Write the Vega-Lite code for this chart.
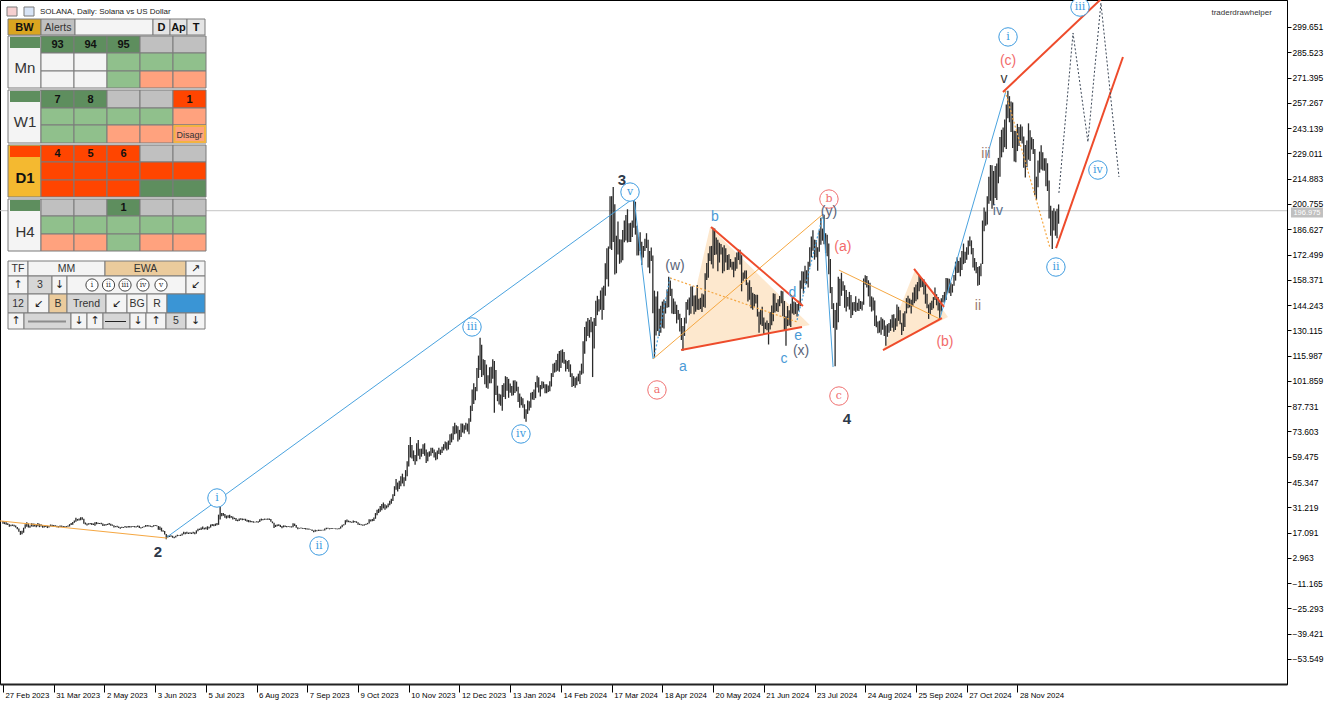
{
"$schema":"https://vega.github.io/schema/vega-lite/v6.json",
"width":1287,"height":684,"autosize":"none",
"padding":{"left":0,"top":0,"right":45,"bottom":23},
"background":"white",
"config":{"view":{"stroke":"#000","strokeWidth":1},"font":"Liberation Sans"},
"datasets":{
"bars":[
{"i":0,"l":22.0,"h":23.5},{"i":1,"l":21.8,"h":22.9},{"i":2,"l":21.5,"h":22.8},{"i":3,"l":21.3,"h":22.3},{"i":4,"l":20.4,"h":21.8},{"i":5,"l":20.6,"h":21.4},{"i":6,"l":20.8,"h":21.6},{"i":7,"l":20.5,"h":21.5},{"i":8,"l":19.9,"h":21.0},{"i":9,"l":18.9,"h":20.2},
{"i":10,"l":17.5,"h":19.3},{"i":11,"l":15.8,"h":18.0},{"i":12,"l":16.2,"h":18.1},{"i":13,"l":17.0,"h":19.8},{"i":14,"l":19.3,"h":21.7},{"i":15,"l":20.3,"h":22.9},{"i":16,"l":19.9,"h":22.2},{"i":17,"l":19.8,"h":21.0},{"i":18,"l":20.5,"h":22.3},{"i":19,"l":20.3,"h":22.1},
{"i":20,"l":20.5,"h":22.0},{"i":21,"l":20.1,"h":21.6},{"i":22,"l":20.6,"h":22.4},{"i":23,"l":20.1,"h":22.0},{"i":24,"l":20.5,"h":21.8},{"i":25,"l":19.8,"h":21.2},{"i":26,"l":19.9,"h":20.8},{"i":27,"l":20.2,"h":21.0},{"i":28,"l":19.6,"h":20.9},{"i":29,"l":19.9,"h":20.8},
{"i":30,"l":20.6,"h":21.6},{"i":31,"l":20.5,"h":21.5},{"i":32,"l":20.4,"h":21.3},{"i":33,"l":20.5,"h":21.2},{"i":34,"l":20.1,"h":20.9},{"i":35,"l":19.9,"h":20.7},{"i":36,"l":20.2,"h":21.0},{"i":37,"l":20.3,"h":21.0},{"i":38,"l":20.2,"h":20.8},{"i":39,"l":20.0,"h":20.6},
{"i":40,"l":20.1,"h":20.7},{"i":41,"l":20.3,"h":21.0},{"i":42,"l":20.5,"h":21.8},{"i":43,"l":21.3,"h":22.4},{"i":44,"l":21.4,"h":23.0},{"i":45,"l":22.6,"h":23.9},{"i":46,"l":23.2,"h":25.3},{"i":47,"l":23.7,"h":24.7},{"i":48,"l":23.9,"h":25.0},{"i":49,"l":24.0,"h":25.7},
{"i":50,"l":24.3,"h":25.6},{"i":51,"l":22.0,"h":24.8},{"i":52,"l":21.6,"h":22.7},{"i":53,"l":21.0,"h":22.2},{"i":54,"l":21.5,"h":22.3},{"i":55,"l":21.7,"h":22.4},{"i":56,"l":21.3,"h":22.4},{"i":57,"l":21.3,"h":22.2},{"i":58,"l":20.9,"h":22.8},{"i":59,"l":21.7,"h":23.0},
{"i":60,"l":21.9,"h":22.6},{"i":61,"l":21.9,"h":22.5},{"i":62,"l":21.8,"h":22.6},{"i":63,"l":20.8,"h":22.1},{"i":64,"l":20.9,"h":21.7},{"i":65,"l":21.0,"h":21.9},{"i":66,"l":21.3,"h":22.0},{"i":67,"l":21.5,"h":22.4},{"i":68,"l":20.9,"h":22.0},{"i":69,"l":20.9,"h":21.6},
{"i":70,"l":19.9,"h":21.2},{"i":71,"l":20.1,"h":20.7},{"i":72,"l":20.0,"h":20.9},{"i":73,"l":19.6,"h":20.5},{"i":74,"l":19.2,"h":20.1},{"i":75,"l":19.7,"h":20.3},{"i":76,"l":19.7,"h":20.2},{"i":77,"l":19.9,"h":20.7},{"i":78,"l":19.8,"h":20.5},{"i":79,"l":19.9,"h":20.8},
{"i":80,"l":19.9,"h":20.7},{"i":81,"l":20.0,"h":20.6},{"i":82,"l":20.2,"h":20.8},{"i":83,"l":20.0,"h":20.7},{"i":84,"l":19.9,"h":20.6},{"i":85,"l":20.2,"h":21.1},{"i":86,"l":19.6,"h":20.9},{"i":87,"l":19.4,"h":20.0},{"i":88,"l":19.7,"h":20.3},{"i":89,"l":20.1,"h":20.6},
{"i":90,"l":20.3,"h":21.3},{"i":91,"l":20.5,"h":21.3},{"i":92,"l":20.5,"h":21.2},{"i":93,"l":20.3,"h":21.0},{"i":94,"l":20.1,"h":20.8},{"i":95,"l":20.4,"h":21.2},{"i":96,"l":20.7,"h":21.3},{"i":97,"l":20.6,"h":21.2},{"i":98,"l":18.7,"h":20.8},{"i":99,"l":18.5,"h":20.5},
{"i":100,"l":17.7,"h":19.8},{"i":101,"l":17.6,"h":18.4},{"i":102,"l":16.0,"h":17.9},{"i":103,"l":13.3,"h":16.3},{"i":104,"l":14.3,"h":15.5},{"i":105,"l":14.6,"h":15.4},{"i":106,"l":14.8,"h":15.6},{"i":107,"l":14.2,"h":15.3},{"i":108,"l":13.9,"h":14.8},{"i":109,"l":14.3,"h":15.3},
{"i":110,"l":15.0,"h":15.8},{"i":111,"l":15.1,"h":15.6},{"i":112,"l":15.2,"h":15.9},{"i":113,"l":15.5,"h":16.5},{"i":114,"l":16.2,"h":17.5},{"i":115,"l":16.2,"h":17.3},{"i":116,"l":16.4,"h":17.6},{"i":117,"l":16.3,"h":17.1},{"i":118,"l":16.4,"h":17.3},{"i":119,"l":16.3,"h":17.1},
{"i":120,"l":16.6,"h":17.6},{"i":121,"l":16.2,"h":17.3},{"i":122,"l":16.5,"h":18.3},{"i":123,"l":17.8,"h":19.2},{"i":124,"l":18.5,"h":19.3},{"i":125,"l":18.5,"h":19.9},{"i":126,"l":18.9,"h":20.5},{"i":127,"l":18.8,"h":19.8},{"i":128,"l":18.9,"h":20.1},{"i":129,"l":18.6,"h":20.6},
{"i":130,"l":19.3,"h":20.4},{"i":131,"l":19.9,"h":21.6},{"i":132,"l":20.7,"h":21.9},{"i":133,"l":20.6,"h":21.8},{"i":134,"l":20.8,"h":22.1},{"i":135,"l":21.2,"h":22.4},{"i":136,"l":21.4,"h":27.1},{"i":137,"l":24.4,"h":32.1},{"i":138,"l":26.2,"h":28.0},{"i":139,"l":26.5,"h":28.0},
{"i":140,"l":25.4,"h":27.4},{"i":141,"l":24.9,"h":26.6},{"i":142,"l":25.3,"h":26.8},{"i":143,"l":25.1,"h":27.1},{"i":144,"l":25.4,"h":26.4},{"i":145,"l":24.4,"h":26.0},{"i":146,"l":24.6,"h":25.4},{"i":147,"l":23.6,"h":25.2},{"i":148,"l":23.4,"h":24.3},{"i":149,"l":23.6,"h":25.0},
{"i":150,"l":24.2,"h":25.1},{"i":151,"l":24.0,"h":25.0},{"i":152,"l":24.1,"h":24.8},{"i":153,"l":23.6,"h":24.8},{"i":154,"l":23.2,"h":24.3},{"i":155,"l":22.8,"h":24.1},{"i":156,"l":22.9,"h":23.9},{"i":157,"l":22.8,"h":23.6},{"i":158,"l":22.6,"h":23.4},{"i":159,"l":22.7,"h":23.2},
{"i":160,"l":22.8,"h":23.4},{"i":161,"l":22.6,"h":23.4},{"i":162,"l":23.0,"h":24.5},{"i":163,"l":23.8,"h":24.9},{"i":164,"l":24.0,"h":24.6},{"i":165,"l":24.2,"h":24.9},{"i":166,"l":24.3,"h":24.8},{"i":167,"l":24.3,"h":24.9},{"i":168,"l":24.1,"h":25.0},{"i":169,"l":23.1,"h":24.6},
{"i":170,"l":22.3,"h":23.3},{"i":171,"l":19.7,"h":22.6},{"i":172,"l":20.2,"h":21.4},{"i":173,"l":20.6,"h":21.6},{"i":174,"l":20.8,"h":21.7},{"i":175,"l":20.2,"h":21.4},{"i":176,"l":19.5,"h":20.7},{"i":177,"l":20.0,"h":21.1},{"i":178,"l":20.2,"h":21.0},{"i":179,"l":20.1,"h":20.7},
{"i":180,"l":20.2,"h":20.6},{"i":181,"l":20.1,"h":20.6},{"i":182,"l":19.9,"h":20.6},{"i":183,"l":20.0,"h":22.3},{"i":184,"l":20.8,"h":22.1},{"i":185,"l":19.8,"h":21.3},{"i":186,"l":19.0,"h":20.0},{"i":187,"l":19.3,"h":19.7},{"i":188,"l":19.4,"h":19.9},{"i":189,"l":19.2,"h":19.7},
{"i":190,"l":19.1,"h":19.7},{"i":191,"l":18.8,"h":19.6},{"i":192,"l":18.8,"h":19.4},{"i":193,"l":18.6,"h":19.4},{"i":194,"l":18.7,"h":19.0},{"i":195,"l":17.9,"h":18.8},{"i":196,"l":17.3,"h":18.2},{"i":197,"l":17.6,"h":18.6},{"i":198,"l":17.8,"h":18.4},{"i":199,"l":18.0,"h":18.7},
{"i":200,"l":18.0,"h":18.7},{"i":201,"l":18.2,"h":18.6},{"i":202,"l":18.2,"h":18.6},{"i":203,"l":18.3,"h":19.3},{"i":204,"l":18.9,"h":19.8},{"i":205,"l":19.2,"h":19.8},{"i":206,"l":18.9,"h":19.5},{"i":207,"l":19.1,"h":19.6},{"i":208,"l":19.2,"h":19.6},{"i":209,"l":19.1,"h":19.4},
{"i":210,"l":19.0,"h":19.5},{"i":211,"l":18.9,"h":19.3},{"i":212,"l":19.0,"h":19.6},{"i":213,"l":19.3,"h":20.5},{"i":214,"l":20.1,"h":21.5},{"i":215,"l":21.0,"h":21.7},{"i":216,"l":21.5,"h":24.0},{"i":217,"l":22.8,"h":24.4},{"i":218,"l":22.9,"h":23.8},{"i":219,"l":22.7,"h":23.5},
{"i":220,"l":22.6,"h":23.2},{"i":221,"l":22.6,"h":23.9},{"i":222,"l":22.9,"h":23.5},{"i":223,"l":22.5,"h":23.4},{"i":224,"l":21.4,"h":22.8},{"i":225,"l":21.3,"h":22.1},{"i":226,"l":21.2,"h":21.8},{"i":227,"l":20.9,"h":21.6},{"i":228,"l":21.0,"h":21.7},{"i":229,"l":21.3,"h":22.0},
{"i":230,"l":21.7,"h":22.5},{"i":231,"l":22.2,"h":24.5},{"i":232,"l":23.3,"h":24.4},{"i":233,"l":23.4,"h":24.6},{"i":234,"l":23.6,"h":25.5},{"i":235,"l":24.8,"h":28.0},{"i":236,"l":26.8,"h":29.9},{"i":237,"l":28.0,"h":30.4},{"i":238,"l":28.7,"h":31.9},{"i":239,"l":29.5,"h":33.0},
{"i":240,"l":30.6,"h":33.9},{"i":241,"l":29.8,"h":32.9},{"i":242,"l":30.6,"h":32.3},{"i":243,"l":31.2,"h":33.3},{"i":244,"l":32.4,"h":34.8},{"i":245,"l":33.2,"h":36.0},{"i":246,"l":34.7,"h":38.5},{"i":247,"l":37.5,"h":43.0},{"i":248,"l":41.0,"h":47.0},{"i":249,"l":40.0,"h":45.0},
{"i":250,"l":41.5,"h":46.0},{"i":251,"l":43.0,"h":48.5},{"i":252,"l":44.5,"h":50.0},{"i":253,"l":43.0,"h":48.0},{"i":254,"l":46.0,"h":52.0},{"i":255,"l":48.5,"h":57.0},{"i":256,"l":54.0,"h":66.0},{"i":257,"l":59.0,"h":70.5},{"i":258,"l":58.5,"h":66.0},{"i":259,"l":57.0,"h":63.0},
{"i":260,"l":55.0,"h":60.5},{"i":261,"l":57.0,"h":67.0},{"i":262,"l":60.0,"h":68.8},{"i":263,"l":58.0,"h":64.0},{"i":264,"l":59.5,"h":64.0},{"i":265,"l":61.0,"h":66.5},{"i":266,"l":60.0,"h":67.0},{"i":267,"l":56.0,"h":63.5},{"i":268,"l":57.0,"h":62.0},{"i":269,"l":59.5,"h":62.5},
{"i":270,"l":60.0,"h":64.5},{"i":271,"l":61.5,"h":64.5},{"i":272,"l":59.0,"h":63.5},{"i":273,"l":57.5,"h":62.0},{"i":274,"l":58.0,"h":63.0},{"i":275,"l":61.0,"h":64.5},{"i":276,"l":60.5,"h":63.5},{"i":277,"l":61.5,"h":65.0},{"i":278,"l":63.0,"h":66.5},{"i":279,"l":64.0,"h":68.0},
{"i":280,"l":63.0,"h":67.5},{"i":281,"l":63.5,"h":68.5},{"i":282,"l":66.0,"h":72.0},{"i":283,"l":67.5,"h":72.5},{"i":284,"l":69.0,"h":76.5},{"i":285,"l":72.0,"h":78.5},{"i":286,"l":72.5,"h":77.0},{"i":287,"l":68.0,"h":76.5},{"i":288,"l":69.0,"h":74.5},{"i":289,"l":70.5,"h":78.0},
{"i":290,"l":73.0,"h":78.0},{"i":291,"l":72.5,"h":77.0},{"i":292,"l":74.5,"h":78.5},{"i":293,"l":73.5,"h":78.0},{"i":294,"l":72.0,"h":81.0},{"i":295,"l":79.0,"h":88.0},{"i":296,"l":85.0,"h":97.0},{"i":297,"l":89.0,"h":100.5},{"i":298,"l":91.0,"h":98.5},{"i":299,"l":96.0,"h":109.0},
{"i":300,"l":103.5,"h":116.0},{"i":301,"l":108.0,"h":126.0},{"i":302,"l":104.0,"h":122.0},{"i":303,"l":105.0,"h":114.0},{"i":304,"l":100.0,"h":113.5},{"i":305,"l":98.0,"h":111.0},{"i":306,"l":97.5,"h":105.0},{"i":307,"l":100.5,"h":109.5},{"i":308,"l":100.5,"h":109.8},{"i":309,"l":103.0,"h":114.0},
{"i":310,"l":84.0,"h":113.0},{"i":311,"l":94.0,"h":108.0},{"i":312,"l":90.5,"h":99.2},{"i":313,"l":88.7,"h":94.7},{"i":314,"l":88.0,"h":94.3},{"i":315,"l":85.2,"h":99.5},{"i":316,"l":92.8,"h":100.5},{"i":317,"l":91.7,"h":104.5},{"i":318,"l":96.3,"h":104.0},{"i":319,"l":92.4,"h":103.0},
{"i":320,"l":95.2,"h":100.4},{"i":321,"l":93.6,"h":99.0},{"i":322,"l":93.8,"h":102.1},{"i":323,"l":95.1,"h":102.2},{"i":324,"l":96.0,"h":101.5},{"i":325,"l":90.1,"h":98.6},{"i":326,"l":86.8,"h":94.8},{"i":327,"l":88.2,"h":93.0},{"i":328,"l":86.9,"h":92.2},{"i":329,"l":80.7,"h":88.8},
{"i":330,"l":79.0,"h":86.0},{"i":331,"l":83.4,"h":90.9},{"i":332,"l":85.3,"h":90.5},{"i":333,"l":86.8,"h":95.3},{"i":334,"l":91.4,"h":95.7},{"i":335,"l":91.2,"h":97.1},{"i":336,"l":92.2,"h":101.2},{"i":337,"l":98.2,"h":104.7},{"i":338,"l":95.4,"h":103.9},{"i":339,"l":93.1,"h":99.5},
{"i":340,"l":97.2,"h":101.6},{"i":341,"l":97.8,"h":101.4},{"i":342,"l":95.0,"h":100.0},{"i":343,"l":95.0,"h":100.0},{"i":344,"l":95.6,"h":99.3},{"i":345,"l":96.0,"h":101.7},{"i":346,"l":98.7,"h":106.2},{"i":347,"l":104.1,"h":111.5},{"i":348,"l":106.5,"h":112.0},{"i":349,"l":107.0,"h":113.5},
{"i":350,"l":107.5,"h":117.0},{"i":351,"l":107.0,"h":118.5},{"i":352,"l":109.0,"h":119.0},{"i":353,"l":112.0,"h":119.5},{"i":354,"l":111.5,"h":118.0},{"i":355,"l":107.1,"h":113.7},{"i":356,"l":108.5,"h":113.0},{"i":357,"l":107.0,"h":113.5},{"i":358,"l":104.0,"h":111.1},{"i":359,"l":98.5,"h":106.1},
{"i":360,"l":99.0,"h":104.5},{"i":361,"l":98.0,"h":103.6},{"i":362,"l":99.4,"h":104.3},{"i":363,"l":101.6,"h":105.9},{"i":364,"l":100.1,"h":107.5},{"i":365,"l":105.3,"h":111.5},{"i":366,"l":106.0,"h":124.0},{"i":367,"l":117.0,"h":132.0},{"i":368,"l":124.0,"h":135.0},{"i":369,"l":127.0,"h":137.0},
{"i":370,"l":126.0,"h":136.0},{"i":371,"l":129.0,"h":137.5},{"i":372,"l":104.0,"h":135.0},{"i":373,"l":120.0,"h":137.0},{"i":374,"l":132.5,"h":146.6},{"i":375,"l":138.6,"h":149.4},{"i":376,"l":140.6,"h":147.5},{"i":377,"l":141.6,"h":152.4},{"i":378,"l":136.1,"h":154.0},{"i":379,"l":141.5,"h":155.0},
{"i":380,"l":149.4,"h":167.6},{"i":381,"l":158.6,"h":176.0},{"i":382,"l":154.6,"h":177.0},{"i":383,"l":175.7,"h":205.0},{"i":384,"l":175.0,"h":205.1},{"i":385,"l":179.5,"h":210.2},{"i":386,"l":161.3,"h":200.6},{"i":387,"l":162.0,"h":183.0},{"i":388,"l":172.5,"h":190.9},{"i":389,"l":167.3,"h":181.0},
{"i":390,"l":168.0,"h":180.9},{"i":391,"l":169.3,"h":186.2},{"i":392,"l":179.4,"h":191.5},{"i":393,"l":180.3,"h":194.6},{"i":394,"l":179.2,"h":197.8},{"i":395,"l":179.5,"h":189.9},{"i":396,"l":179.5,"h":190.2},{"i":397,"l":182.3,"h":191.5},{"i":398,"l":187.5,"h":204.0},{"i":399,"l":183.6,"h":202.0},
{"i":400,"l":172.0,"h":188.5},{"i":401,"l":172.0,"h":182.5},{"i":402,"l":174.5,"h":185.0},{"i":403,"l":166.6,"h":179.6},{"i":404,"l":170.8,"h":177.3},{"i":405,"l":174.4,"h":181.3},{"i":406,"l":176.1,"h":184.4},{"i":407,"l":165.2,"h":180.8},{"i":408,"l":162.0,"h":174.5},{"i":409,"l":168.8,"h":176.4},
{"i":410,"l":139.7,"h":172.0},{"i":411,"l":115.0,"h":152.3},{"i":412,"l":127.2,"h":149.0},{"i":413,"l":129.7,"h":151.9},{"i":414,"l":127.0,"h":142.2},{"i":415,"l":128.7,"h":143.9},{"i":416,"l":131.6,"h":146.2},{"i":417,"l":131.2,"h":147.3},{"i":418,"l":139.5,"h":146.5},{"i":419,"l":142.8,"h":153.0},
{"i":420,"l":143.0,"h":160.0},{"i":421,"l":149.3,"h":158.0},{"i":422,"l":139.5,"h":153.4},{"i":423,"l":139.2,"h":147.9},{"i":424,"l":139.2,"h":146.3},{"i":425,"l":134.0,"h":144.4},{"i":426,"l":136.0,"h":141.5},{"i":427,"l":129.4,"h":139.4},{"i":428,"l":124.7,"h":137.0},{"i":429,"l":118.7,"h":132.5},
{"i":430,"l":127.0,"h":137.2},{"i":431,"l":133.9,"h":146.0},{"i":432,"l":141.6,"h":147.4},{"i":433,"l":138.6,"h":148.4},{"i":434,"l":139.4,"h":154.6},{"i":435,"l":143.6,"h":154.7},{"i":436,"l":139.1,"h":149.6},{"i":437,"l":140.5,"h":149.7},{"i":438,"l":141.6,"h":155.4},{"i":439,"l":141.5,"h":147.7},
{"i":440,"l":142.0,"h":148.3},{"i":441,"l":140.3,"h":150.7},{"i":442,"l":143.2,"h":150.2},{"i":443,"l":142.8,"h":162.0},{"i":444,"l":158.2,"h":167.8},{"i":445,"l":159.5,"h":173.2},{"i":446,"l":168.9,"h":177.1},{"i":447,"l":167.0,"h":177.3},{"i":448,"l":164.7,"h":187.5},{"i":449,"l":172.2,"h":187.0},
{"i":450,"l":172.5,"h":182.0},{"i":451,"l":163.2,"h":180.8},{"i":452,"l":168.0,"h":179.1},{"i":453,"l":172.5,"h":178.4},{"i":454,"l":162.0,"h":176.5},{"i":455,"l":163.2,"h":177.6},{"i":456,"l":168.0,"h":176.0},{"i":457,"l":163.8,"h":172.2},{"i":458,"l":164.0,"h":172.6},{"i":459,"l":165.3,"h":170.0},
{"i":460,"l":164.0,"h":168.5},{"i":461,"l":159.8,"h":168.5},{"i":462,"l":163.4,"h":171.0},{"i":463,"l":164.5,"h":173.6},{"i":464,"l":169.4,"h":175.3},{"i":465,"l":166.9,"h":175.1},{"i":466,"l":151.9,"h":172.1},{"i":467,"l":157.8,"h":162.4},{"i":468,"l":158.9,"h":163.5},{"i":469,"l":155.4,"h":163.6},
{"i":470,"l":146.2,"h":156.8},{"i":471,"l":147.2,"h":158.1},{"i":472,"l":142.5,"h":154.4},{"i":473,"l":141.6,"h":151.1},{"i":474,"l":143.3,"h":150.4},{"i":475,"l":145.1,"h":150.0},{"i":476,"l":137.8,"h":150.0},{"i":477,"l":128.7,"h":140.5},{"i":478,"l":133.3,"h":141.6},{"i":479,"l":132.5,"h":143.3},
{"i":480,"l":127.7,"h":137.3},{"i":481,"l":130.8,"h":134.5},{"i":482,"l":130.2,"h":135.6},{"i":483,"l":122.2,"h":134.2},{"i":484,"l":130.6,"h":140.3},{"i":485,"l":133.0,"h":144.0},{"i":486,"l":135.2,"h":150.8},{"i":487,"l":140.1,"h":150.5},{"i":488,"l":140.8,"h":145.5},{"i":489,"l":140.3,"h":147.5},
{"i":490,"l":143.6,"h":149.3},{"i":491,"l":145.3,"h":152.3},{"i":492,"l":138.0,"h":152.0},{"i":493,"l":130.0,"h":146.5},{"i":494,"l":121.5,"h":138.0},{"i":495,"l":132.5,"h":143.7},{"i":496,"l":132.8,"h":141.4},{"i":497,"l":132.0,"h":145.0},{"i":498,"l":139.5,"h":148.6},{"i":499,"l":138.8,"h":146.3},
{"i":500,"l":139.3,"h":145.8},{"i":501,"l":137.8,"h":144.8},{"i":502,"l":141.0,"h":146.6},{"i":503,"l":143.7,"h":158.0},{"i":504,"l":153.4,"h":163.2},{"i":505,"l":150.7,"h":163.0},{"i":506,"l":156.4,"h":166.2},{"i":507,"l":156.0,"h":163.7},{"i":508,"l":154.0,"h":168.5},{"i":509,"l":165.7,"h":176.6},
{"i":510,"l":171.0,"h":182.5},{"i":511,"l":174.6,"h":186.0},{"i":512,"l":169.6,"h":180.8},{"i":513,"l":171.0,"h":180.6},{"i":514,"l":163.4,"h":176.6},{"i":515,"l":174.0,"h":186.0},{"i":516,"l":178.0,"h":193.0},{"i":517,"l":180.2,"h":187.0},{"i":518,"l":178.2,"h":194.7},{"i":519,"l":173.4,"h":184.4},
{"i":520,"l":171.5,"h":183.5},{"i":521,"l":161.5,"h":178.6},{"i":522,"l":150.9,"h":170.0},{"i":523,"l":142.0,"h":154.3},{"i":524,"l":131.5,"h":145.3},{"i":525,"l":110.0,"h":141.5},{"i":526,"l":130.4,"h":145.5},{"i":527,"l":134.7,"h":160.0},{"i":528,"l":143.7,"h":158.9},{"i":529,"l":149.4,"h":162.3},
{"i":530,"l":152.3,"h":157.6},{"i":531,"l":142.7,"h":155.3},{"i":532,"l":140.7,"h":152.6},{"i":533,"l":143.5,"h":148.8},{"i":534,"l":141.7,"h":151.6},{"i":535,"l":137.0,"h":149.9},{"i":536,"l":138.6,"h":145.8},{"i":537,"l":141.0,"h":146.0},{"i":538,"l":140.4,"h":149.2},{"i":539,"l":141.1,"h":145.6},
{"i":540,"l":140.9,"h":147.7},{"i":541,"l":142.0,"h":146.5},{"i":542,"l":141.2,"h":146.3},{"i":543,"l":144.4,"h":159.1},{"i":544,"l":155.6,"h":160.9},{"i":545,"l":154.0,"h":160.5},{"i":546,"l":149.1,"h":158.1},{"i":547,"l":143.3,"h":156.7},{"i":548,"l":140.6,"h":149.1},{"i":549,"l":141.2,"h":148.4},
{"i":550,"l":132.6,"h":146.8},{"i":551,"l":131.8,"h":138.4},{"i":552,"l":128.5,"h":135.0},{"i":553,"l":128.8,"h":135.5},{"i":554,"l":127.6,"h":137.4},{"i":555,"l":130.5,"h":136.6},{"i":556,"l":127.0,"h":135.7},{"i":557,"l":121.5,"h":132.8},{"i":558,"l":126.5,"h":133.6},{"i":559,"l":128.8,"h":134.2},
{"i":560,"l":129.8,"h":136.3},{"i":561,"l":131.6,"h":138.8},{"i":562,"l":129.3,"h":139.1},{"i":563,"l":130.3,"h":136.8},{"i":564,"l":132.2,"h":144.5},{"i":565,"l":135.4,"h":143.3},{"i":566,"l":133.5,"h":141.3},{"i":567,"l":127.5,"h":134.3},{"i":568,"l":129.8,"h":139.6},{"i":569,"l":132.0,"h":140.8},
{"i":570,"l":139.6,"h":148.1},{"i":571,"l":142.5,"h":149.5},{"i":572,"l":142.9,"h":147.9},{"i":573,"l":139.5,"h":147.2},{"i":574,"l":143.6,"h":151.2},{"i":575,"l":145.3,"h":154.2},{"i":576,"l":146.4,"h":155.8},{"i":577,"l":147.4,"h":157.1},{"i":578,"l":152.0,"h":160.7},{"i":579,"l":154.0,"h":159.6},
{"i":580,"l":154.3,"h":159.2},{"i":581,"l":150.1,"h":158.6},{"i":582,"l":145.0,"h":157.0},{"i":583,"l":142.4,"h":150.6},{"i":584,"l":136.5,"h":144.6},{"i":585,"l":139.3,"h":145.6},{"i":586,"l":141.5,"h":146.7},{"i":587,"l":142.4,"h":148.7},{"i":588,"l":147.0,"h":154.0},{"i":589,"l":144.1,"h":150.3},
{"i":590,"l":141.2,"h":148.8},{"i":591,"l":136.4,"h":145.7},{"i":592,"l":140.6,"h":148.1},{"i":593,"l":145.7,"h":149.8},{"i":594,"l":145.6,"h":151.6},{"i":595,"l":147.0,"h":159.3},{"i":596,"l":151.2,"h":159.2},{"i":597,"l":150.8,"h":158.9},{"i":598,"l":149.3,"h":156.9},{"i":599,"l":151.2,"h":155.9},
{"i":600,"l":155.0,"h":161.0},{"i":601,"l":157.9,"h":168.5},{"i":602,"l":162.2,"h":170.9},{"i":603,"l":162.3,"h":168.8},{"i":604,"l":160.4,"h":170.8},{"i":605,"l":163.9,"h":174.4},{"i":606,"l":167.1,"h":178.6},{"i":607,"l":167.8,"h":174.0},{"i":608,"l":169.5,"h":176.5},{"i":609,"l":172.3,"h":180.3},
{"i":610,"l":177.1,"h":182.6},{"i":611,"l":172.6,"h":180.4},{"i":612,"l":165.2,"h":176.1},{"i":613,"l":163.5,"h":170.5},{"i":614,"l":162.0,"h":168.3},{"i":615,"l":155.0,"h":165.5},{"i":616,"l":155.5,"h":166.0},{"i":617,"l":160.3,"h":167.5},{"i":618,"l":167.2,"h":191.5},{"i":619,"l":185.5,"h":198.7},
{"i":620,"l":188.6,"h":196.6},{"i":621,"l":189.2,"h":205.0},{"i":622,"l":200.9,"h":216.0},{"i":623,"l":202.5,"h":222.5},{"i":624,"l":198.1,"h":222.4},{"i":625,"l":200.0,"h":219.2},{"i":626,"l":204.1,"h":222.0},{"i":627,"l":203.0,"h":223.4},{"i":628,"l":212.3,"h":226.5},{"i":629,"l":216.0,"h":238.2},
{"i":630,"l":226.8,"h":242.2},{"i":631,"l":229.6,"h":243.5},{"i":632,"l":232.5,"h":248.0},{"i":633,"l":231.4,"h":256.4},{"i":634,"l":248.6,"h":264.0},{"i":635,"l":246.4,"h":261.0},{"i":636,"l":241.0,"h":258.0},{"i":637,"l":232.0,"h":257.5},{"i":638,"l":224.5,"h":241.7},{"i":639,"l":224.0,"h":241.5},
{"i":640,"l":230.3,"h":245.5},{"i":641,"l":233.2,"h":243.7},{"i":642,"l":236.0,"h":245.2},{"i":643,"l":234.5,"h":244.0},{"i":644,"l":221.0,"h":238.5},{"i":645,"l":215.5,"h":233.7},{"i":646,"l":221.2,"h":236.2},{"i":647,"l":225.5,"h":245.8},{"i":648,"l":224.7,"h":242.0},{"i":649,"l":231.2,"h":238.0},
{"i":650,"l":228.6,"h":237.0},{"i":651,"l":205.8,"h":231.4},{"i":652,"l":203.0,"h":216.0},{"i":653,"l":210.1,"h":225.0},{"i":654,"l":218.2,"h":230.0},{"i":655,"l":220.0,"h":233.6},{"i":656,"l":219.5,"h":229.6},{"i":657,"l":219.3,"h":226.3},{"i":658,"l":210.6,"h":226.3},{"i":659,"l":208.0,"h":223.5},
{"i":660,"l":192.6,"h":213.8},{"i":661,"l":183.0,"h":199.8},{"i":662,"l":175.6,"h":197.0},{"i":663,"l":185.9,"h":198.3},{"i":664,"l":183.0,"h":196.7},{"i":665,"l":181.6,"h":198.0},{"i":666,"l":189.7,"h":200.5}
],
"thin":[
{"g":"o1","i":-1.9,"p":23.6},{"g":"o1","i":103.5,"p":14.0},
{"g":"b1","i":103.5,"p":14.6},{"g":"b1","i":398.1,"p":204.1},
{"g":"b2","i":398.1,"p":204.1},{"g":"b2","i":410.1,"p":114.1},
{"g":"o2","i":410.1,"p":114.1},{"g":"o2","i":517.4,"p":195.1},
{"g":"b3","i":517.4,"p":195.1},{"g":"b3","i":523.7,"p":109.6},
{"g":"o3","i":527.4,"p":163.8},{"g":"o3","i":591.2,"p":136.4},
{"g":"b4","i":591.2,"p":137.0},{"g":"b4","i":632.8,"p":263.9}
],
"thick":[
{"g":"t1","i":446.7,"p":187.9},{"g":"t1","i":504.7,"p":143.7},
{"g":"t2","i":427.8,"p":119.1},{"g":"t2","i":504.1,"p":132.0},
{"g":"t3","i":574.8,"p":164.4},{"g":"t3","i":593.7,"p":143.2},
{"g":"t4","i":555.2,"p":119.1},{"g":"t4","i":592.4,"p":137.0},
{"g":"t5","i":630.9,"p":263.3},{"g":"t5","i":694.0,"p":316.3},
{"g":"t6","i":664.4,"p":176.1},{"g":"t6","i":706.6,"p":282.9}
],
"dots":[
{"g":"d1","i":420.8,"p":159.4},{"g":"d1","i":501.0,"p":134.8},
{"g":"d2","i":632.2,"p":263.9},{"g":"d2","i":660.6,"p":176.1},
{"g":"d3","i":410.7,"p":114.6},{"g":"d3","i":420.8,"p":159.4},
{"g":"d4","i":501.0,"p":135.9},{"g":"d4","i":517.4,"p":195.1}
],
"proj":[
{"i":666.2,"p":206.9},{"i":675.1,"p":296.3},{"i":684.5,"p":235.4},{"i":692.7,"p":313.1},{"i":704.1,"p":215.8}
],
"tri":[
{"g":"A","i":428.4,"p":119.1,"q":119.1},{"g":"A","i":446.1,"p":187.9,"q":122.2},{"g":"A","i":509.1,"p":133.1,"q":133.1},
{"g":"B","i":555.2,"p":119.1,"q":119.1},{"g":"B","i":575.4,"p":163.8,"q":128.2},{"g":"B","i":596.2,"p":137.6,"q":137.6}
],
"circ":[
{"i":135.0,"p":36.4,"t":"i","k":"b"},{"i":199.4,"p":9.6,"t":"ii","k":"b"},{"i":295.9,"p":132.0,"t":"iii","k":"b"},{"i":326.8,"p":72.2,"t":"iv","k":"b"},{"i":395.6,"p":207.4,"t":"v","k":"b"},
{"i":634.1,"p":294.1,"t":"i","k":"b"},{"i":664.3,"p":165.5,"t":"ii","k":"b"},{"i":690.8,"p":219.7,"t":"iv","k":"b"},{"i":679.5,"p":310.8,"t":"iii","k":"b"},
{"i":412.6,"p":96.8,"t":"a","k":"r"},{"i":521.1,"p":203.5,"t":"b","k":"r"},{"i":527.4,"p":93.4,"t":"c","k":"r"}
],
"labs":[
{"i":424.0,"p":165.8,"t":"(w)","k":"g"},{"i":429.0,"p":109.6,"t":"a","k":"b"},{"i":449.2,"p":193.5,"t":"b","k":"b"},{"i":492.7,"p":114.1,"t":"c","k":"b"},{"i":498.0,"p":150.9,"t":"d","k":"b"},{"i":501.6,"p":126.8,"t":"e","k":"b"},
{"i":503.5,"p":118.5,"t":"(x)","k":"g"},{"i":521.1,"p":196.0,"t":"(y)","k":"g"},{"i":529.9,"p":176.7,"t":"(a)","k":"r"},{"i":594.3,"p":123.6,"t":"(b)","k":"r"},
{"i":615.1,"p":143.7,"t":"ii","k":"br"},{"i":620.2,"p":228.7,"t":"iii","k":"br"},{"i":627.7,"p":196.8,"t":"iv","k":"s"},{"i":631.6,"p":270.6,"t":"v","k":"d"},{"i":634.1,"p":280.6,"t":"(c)","k":"r"}
],
"bold":[
{"i":97.8,"p":6.2,"t":"2"},{"i":390.5,"p":214.1,"t":"3"},{"i":532.5,"p":80.5,"t":"4"}
],
"tcells":[
{"c0":8,"c1":41,"r0":19,"r1":35,"k":"bw"},{"c0":41,"c1":75,"r0":19,"r1":35,"k":"gr"},{"c0":75,"c1":153,"r0":19,"r1":35,"k":"wh"},{"c0":153,"c1":170,"r0":19,"r1":35,"k":"hd"},{"c0":170,"c1":187,"r0":19,"r1":35,"k":"hd"},{"c0":187,"c1":205,"r0":19,"r1":35,"k":"hd"},
{"c0":8,"c1":41,"r0":36,"r1":88,"k":"wh"},{"c0":8,"c1":41,"r0":90,"r1":143,"k":"wh"},{"c0":8,"c1":41,"r0":145,"r1":197,"k":"d1"},{"c0":8,"c1":41,"r0":199,"r1":251,"k":"wh"},
{"c0":41,"c1":74,"r0":36,"r1":53,"k":"dg"},{"c0":74,"c1":107,"r0":36,"r1":53,"k":"dg"},{"c0":107,"c1":140,"r0":36,"r1":53,"k":"dg"},{"c0":140,"c1":173,"r0":36,"r1":53,"k":"gr"},{"c0":173,"c1":206,"r0":36,"r1":53,"k":"gr"},
{"c0":41,"c1":74,"r0":53,"r1":71,"k":"wh"},{"c0":74,"c1":107,"r0":53,"r1":71,"k":"wh"},{"c0":107,"c1":140,"r0":53,"r1":71,"k":"lg"},{"c0":140,"c1":173,"r0":53,"r1":71,"k":"lg"},{"c0":173,"c1":206,"r0":53,"r1":71,"k":"lg"},
{"c0":41,"c1":74,"r0":71,"r1":88,"k":"wh"},{"c0":74,"c1":107,"r0":71,"r1":88,"k":"wh"},{"c0":107,"c1":140,"r0":71,"r1":88,"k":"lg"},{"c0":140,"c1":173,"r0":71,"r1":88,"k":"sa"},{"c0":173,"c1":206,"r0":71,"r1":88,"k":"sa"},
{"c0":41,"c1":74,"r0":90,"r1":108,"k":"dg"},{"c0":74,"c1":107,"r0":90,"r1":108,"k":"dg"},{"c0":107,"c1":140,"r0":90,"r1":108,"k":"gr"},{"c0":140,"c1":173,"r0":90,"r1":108,"k":"gr"},{"c0":173,"c1":206,"r0":90,"r1":108,"k":"rd"},
{"c0":41,"c1":74,"r0":108,"r1":125,"k":"lg"},{"c0":74,"c1":107,"r0":108,"r1":125,"k":"lg"},{"c0":107,"c1":140,"r0":108,"r1":125,"k":"lg"},{"c0":140,"c1":173,"r0":108,"r1":125,"k":"lg"},{"c0":173,"c1":206,"r0":108,"r1":125,"k":"sa"},
{"c0":41,"c1":74,"r0":125,"r1":143,"k":"lg"},{"c0":74,"c1":107,"r0":125,"r1":143,"k":"lg"},{"c0":107,"c1":140,"r0":125,"r1":143,"k":"sa"},{"c0":140,"c1":173,"r0":125,"r1":143,"k":"sa"},{"c0":173,"c1":206,"r0":125,"r1":143,"k":"sa"},
{"c0":41,"c1":74,"r0":145,"r1":162,"k":"rd"},{"c0":74,"c1":107,"r0":145,"r1":162,"k":"rd"},{"c0":107,"c1":140,"r0":145,"r1":162,"k":"rd"},{"c0":140,"c1":173,"r0":145,"r1":162,"k":"gr"},{"c0":173,"c1":206,"r0":145,"r1":162,"k":"gr"},
{"c0":41,"c1":74,"r0":162,"r1":180,"k":"rd"},{"c0":74,"c1":107,"r0":162,"r1":180,"k":"rd"},{"c0":107,"c1":140,"r0":162,"r1":180,"k":"rd"},{"c0":140,"c1":173,"r0":162,"r1":180,"k":"rd"},{"c0":173,"c1":206,"r0":162,"r1":180,"k":"rd"},
{"c0":41,"c1":74,"r0":180,"r1":197,"k":"rd"},{"c0":74,"c1":107,"r0":180,"r1":197,"k":"rd"},{"c0":107,"c1":140,"r0":180,"r1":197,"k":"rd"},{"c0":140,"c1":173,"r0":180,"r1":197,"k":"dg"},{"c0":173,"c1":206,"r0":180,"r1":197,"k":"dg"},
{"c0":41,"c1":74,"r0":199,"r1":216,"k":"gr"},{"c0":74,"c1":107,"r0":199,"r1":216,"k":"gr"},{"c0":107,"c1":140,"r0":199,"r1":216,"k":"dg"},{"c0":140,"c1":173,"r0":199,"r1":216,"k":"gr"},{"c0":173,"c1":206,"r0":199,"r1":216,"k":"gr"},
{"c0":41,"c1":74,"r0":216,"r1":234,"k":"lg"},{"c0":74,"c1":107,"r0":216,"r1":234,"k":"lg"},{"c0":107,"c1":140,"r0":216,"r1":234,"k":"lg"},{"c0":140,"c1":173,"r0":216,"r1":234,"k":"lg"},{"c0":173,"c1":206,"r0":216,"r1":234,"k":"lg"},
{"c0":41,"c1":74,"r0":234,"r1":251,"k":"sa"},{"c0":74,"c1":107,"r0":234,"r1":251,"k":"sa"},{"c0":107,"c1":140,"r0":234,"r1":251,"k":"lg"},{"c0":140,"c1":173,"r0":234,"r1":251,"k":"sa"},{"c0":173,"c1":206,"r0":234,"r1":251,"k":"sa"},
{"c0":8,"c1":28,"r0":261,"r1":276,"k":"wh"},{"c0":28,"c1":105,"r0":261,"r1":276,"k":"wh"},{"c0":105,"c1":186,"r0":261,"r1":276,"k":"tan"},{"c0":186,"c1":205,"r0":261,"r1":276,"k":"wh"},
{"c0":8,"c1":28,"r0":276,"r1":294,"k":"wh"},{"c0":28,"c1":52,"r0":276,"r1":294,"k":"mg"},{"c0":52,"c1":67,"r0":276,"r1":294,"k":"wh"},{"c0":67,"c1":186,"r0":276,"r1":294,"k":"wh"},{"c0":186,"c1":205,"r0":276,"r1":294,"k":"wh"},
{"c0":8,"c1":28,"r0":294,"r1":313,"k":"mg"},{"c0":28,"c1":49,"r0":294,"r1":313,"k":"wh"},{"c0":49,"c1":67,"r0":294,"r1":313,"k":"tan"},{"c0":67,"c1":106,"r0":294,"r1":313,"k":"mg"},{"c0":106,"c1":127,"r0":294,"r1":313,"k":"wh"},{"c0":127,"c1":147,"r0":294,"r1":313,"k":"wh"},{"c0":147,"c1":167,"r0":294,"r1":313,"k":"wh"},{"c0":167,"c1":205,"r0":294,"r1":313,"k":"blu"},
{"c0":8,"c1":24,"r0":313,"r1":329,"k":"wh"},{"c0":24,"c1":71,"r0":313,"r1":329,"k":"mg"},{"c0":71,"c1":87,"r0":313,"r1":329,"k":"wh"},{"c0":87,"c1":103,"r0":313,"r1":329,"k":"wh"},{"c0":103,"c1":130,"r0":313,"r1":329,"k":"mg"},{"c0":130,"c1":146,"r0":313,"r1":329,"k":"wh"},{"c0":146,"c1":166,"r0":313,"r1":329,"k":"wh"},{"c0":166,"c1":186,"r0":313,"r1":329,"k":"mg"},{"c0":186,"c1":205,"r0":313,"r1":329,"k":"wh"},
{"c0":7,"c1":17,"r0":7,"r1":16,"k":"ic1"},{"c0":24,"c1":34,"r0":7,"r1":16,"k":"ic2"}
],
"tbars":[
{"c0":10,"c1":40,"r0":37,"r1":48,"k":"dg"},{"c0":10,"c1":40,"r0":91,"r1":102,"k":"dg"},{"c0":10,"c1":40,"r0":146,"r1":157,"k":"rd"},{"c0":10,"c1":40,"r0":200,"r1":211,"k":"dg"},
{"c0":28,"c1":66,"r0":320.5,"r1":322.5,"k":"ln1"},{"c0":105,"c1":126,"r0":321,"r1":322,"k":"ln2"}
],
"tnorm":[
{"tx":58,"ty":27.5,"t":"Alerts"},{"tx":18,"ty":268.5,"t":"TF"},{"tx":66.5,"ty":268.5,"t":"MM"},{"tx":145.5,"ty":268.5,"t":"EWA"},{"tx":40,"ty":285,"t":"3"},{"tx":18,"ty":303.5,"t":"12"},{"tx":58,"ty":303.5,"t":"B"},{"tx":86.5,"ty":303.5,"t":"Trend"},{"tx":137,"ty":303.5,"t":"BG"},{"tx":157,"ty":303.5,"t":"R"},{"tx":176,"ty":321,"t":"5"}
],
"tbig":[
{"tx":25,"ty":68,"t":"Mn"},{"tx":25,"ty":122,"t":"W1"},{"tx":25,"ty":232,"t":"H4"}
],
"tbold":[
{"tx":24.5,"ty":27.5,"t":"BW"},{"tx":161.5,"ty":27.5,"t":"D"},{"tx":178.5,"ty":27.5,"t":"Ap"},{"tx":196,"ty":27.5,"t":"T"},
{"tx":57.5,"ty":45,"t":"93"},{"tx":90.5,"ty":45,"t":"94"},{"tx":123.5,"ty":45,"t":"95"},
{"tx":57.5,"ty":99.5,"t":"7"},{"tx":90.5,"ty":99.5,"t":"8"},{"tx":189.5,"ty":99.5,"t":"1"},
{"tx":57.5,"ty":154,"t":"4"},{"tx":90.5,"ty":154,"t":"5"},{"tx":123.5,"ty":154,"t":"6"},{"tx":123.5,"ty":208,"t":"1"}
],
"tbig2":[{"tx":25,"ty":177.5,"t":"D1"}],
"tsmall":[{"tx":189.5,"ty":134.5,"t":"Disagr"}],
"ttitle":[{"tx":40,"ty":12,"t":"SOLANA, Daily:  Solana vs US Dollar"}],
"tborder":[{"c0":174.5,"c1":205,"r0":126,"r1":142}],
"tarrow":[
{"tx":195.5,"ty":268.5,"t":"↗"},{"tx":18,"ty":285,"t":"↑"},{"tx":59.5,"ty":285,"t":"↓"},{"tx":195.5,"ty":285,"t":"↙"},{"tx":38.5,"ty":303.5,"t":"↙"},{"tx":116.5,"ty":303.5,"t":"↙"},
{"tx":16,"ty":321,"t":"↑"},{"tx":79,"ty":321,"t":"↓"},{"tx":95,"ty":321,"t":"↑"},{"tx":138,"ty":321,"t":"↓"},{"tx":156,"ty":321,"t":"↑"},{"tx":195.5,"ty":321,"t":"↓"}
],
"tcirc":[
{"tx":92,"ty":285,"t":"i"},{"tx":108.5,"ty":285,"t":"ii"},{"tx":125,"ty":285,"t":"iii"},{"tx":143,"ty":285,"t":"iv"},{"tx":161,"ty":285,"t":"v"}
],
"cur":[{"p":196.975,"t":"196.975","a":812.6,"b":832.8,"lo":193.2,"hi":198.7,"m":822.7,"pt":195.95}],
"wm":[{"i":800.6,"p":307.5,"t":"traderdrawhelper"}]
},
"layer":[
{"data":{"name":"cur"},"mark":{"type":"rule","color":"#C4C4C4","strokeWidth":1},
 "encoding":{"y":{"field":"p","type":"quantitative","scale":{"domain":[-67.55,314.74],"nice":false,"zero":false},"axis":null}}},
{"data":{"name":"tri"},"mark":{"type":"area","color":"#FCD9AE","opacity":0.6},
 "encoding":{"x":{"field":"i","type":"quantitative","scale":{"domain":[-1.893,810.1],"nice":false,"zero":false},"axis":null},
  "y":{"field":"p","type":"quantitative","scale":{"domain":[-67.55,314.74],"nice":false,"zero":false},"axis":null},"y2":{"field":"q"},"detail":{"field":"g"}}},
{"data":{"name":"bars"},"mark":{"type":"rule","color":"#2B2B2B","strokeWidth":1.3},
 "encoding":{"x":{"field":"i","type":"quantitative","scale":{"domain":[-1.893,810.1],"nice":false,"zero":false},
   "axis":{"orient":"bottom","title":null,"grid":false,"values":[0,32,64,96,128,160,192,224,256,288,320,352,384,416,448,480,512,544,576,608,640],
    "labelExpr":"['27 Feb 2023','31 Mar 2023','2 May 2023','3 Jun 2023','5 Jul 2023','6 Aug 2023','7 Sep 2023','9 Oct 2023','10 Nov 2023','12 Dec 2023','13 Jan 2024','14 Feb 2024','17 Mar 2024','18 Apr 2024','20 May 2024','21 Jun 2024','23 Jul 2024','24 Aug 2024','25 Sep 2024','27 Oct 2024','28 Nov 2024'][round(datum.value/32)]",
    "labelAlign":"left","labelBaseline":"top","labelOffset":2,"labelPadding":-1,"tickSize":8,"tickColor":"#000","domainColor":"#222","domainWidth":2,"labelColor":"#000","labelFont":"Liberation Sans","labelFontSize":7.8,"labelOverlap":false,"labelFlush":false}},
  "y":{"field":"l","type":"quantitative","scale":{"domain":[-67.55,314.74],"nice":false,"zero":false},
   "axis":{"orient":"right","title":null,"grid":false,"values":[-53.549,-39.421,-25.293,-11.165,2.963,17.091,31.219,45.347,59.475,73.603,87.731,101.859,115.987,130.115,144.243,158.371,172.499,186.627,200.755,214.883,229.011,243.139,257.267,271.395,285.523,299.651],
    "format":".3f","tickSize":4,"tickColor":"#000","domainColor":"#000","labelColor":"#000","labelFont":"Liberation Sans","labelFontSize":8.5,"labelPadding":1,"labelOverlap":false,"labelFlush":false}},
  "y2":{"field":"h"}}},
{"data":{"name":"thin"},"mark":{"type":"line","strokeWidth":1,"clip":true},
 "encoding":{"x":{"field":"i","type":"quantitative","scale":{"domain":[-1.893,810.1],"nice":false,"zero":false},"axis":null},
  "y":{"field":"p","type":"quantitative","scale":{"domain":[-67.55,314.74],"nice":false,"zero":false},"axis":null},
  "color":{"field":"g","type":"nominal","scale":{"domain":["o1","b1","b2","o2","b3","o3","b4"],"range":["#F5A742","#4AA3DF","#4AA3DF","#F5A742","#4AA3DF","#F5A742","#4AA3DF"]},"legend":null}}},
{"data":{"name":"dots"},"mark":{"type":"line","strokeWidth":1.2,"strokeDash":[2,2],"clip":true},
 "encoding":{"x":{"field":"i","type":"quantitative","scale":{"domain":[-1.893,810.1],"nice":false,"zero":false},"axis":null},
  "y":{"field":"p","type":"quantitative","scale":{"domain":[-67.55,314.74],"nice":false,"zero":false},"axis":null},
  "color":{"field":"g","type":"nominal","scale":{"domain":["d1","d2","d3","d4"],"range":["#F5A742","#F5A742","#4AA3DF","#4AA3DF"]},"legend":null}}},
{"data":{"name":"thick"},"mark":{"type":"line","strokeWidth":2,"color":"#EE4B2B","clip":true},
 "encoding":{"x":{"field":"i","type":"quantitative","scale":{"domain":[-1.893,810.1],"nice":false,"zero":false},"axis":null},
  "y":{"field":"p","type":"quantitative","scale":{"domain":[-67.55,314.74],"nice":false,"zero":false},"axis":null},
  "detail":{"field":"g"}}},
{"data":{"name":"proj"},"mark":{"type":"line","strokeWidth":1,"strokeDash":[2,2],"color":"#3B4656","clip":true},
 "encoding":{"x":{"field":"i","type":"quantitative","scale":{"domain":[-1.893,810.1],"nice":false,"zero":false},"axis":null},
  "y":{"field":"p","type":"quantitative","scale":{"domain":[-67.55,314.74],"nice":false,"zero":false},"axis":null}}},
{"data":{"name":"circ"},"mark":{"type":"point","shape":"circle","size":340,"filled":false,"fill":"white","fillOpacity":1,"strokeWidth":1},
 "encoding":{"x":{"field":"i","type":"quantitative","scale":{"domain":[-1.893,810.1],"nice":false,"zero":false},"axis":null},
  "y":{"field":"p","type":"quantitative","scale":{"domain":[-67.55,314.74],"nice":false,"zero":false},"axis":null},
  "stroke":{"field":"k","type":"nominal","scale":{"domain":["b","r"],"range":["#3D9BE0","#F07070"]},"legend":null}}},
{"data":{"name":"circ"},"mark":{"type":"text","font":"DejaVu Serif","fontSize":11,"align":"center","baseline":"middle"},
 "encoding":{"x":{"field":"i","type":"quantitative","scale":{"domain":[-1.893,810.1],"nice":false,"zero":false},"axis":null},
  "y":{"field":"p","type":"quantitative","scale":{"domain":[-67.55,314.74],"nice":false,"zero":false},"axis":null},
  "text":{"field":"t"},
  "color":{"field":"k","type":"nominal","scale":{"domain":["b","r"],"range":["#3D9BE0","#F07070"]},"legend":null}}},
{"data":{"name":"labs"},"mark":{"type":"text","font":"Liberation Sans","fontSize":14,"align":"center","baseline":"middle"},
 "encoding":{"x":{"field":"i","type":"quantitative","scale":{"domain":[-1.893,810.1],"nice":false,"zero":false},"axis":null},
  "y":{"field":"p","type":"quantitative","scale":{"domain":[-67.55,314.74],"nice":false,"zero":false},"axis":null},
  "text":{"field":"t"},
  "color":{"field":"k","type":"nominal","scale":{"domain":["b","g","r","br","s","d"],"range":["#4A9AD6","#5A6478","#F26B6B","#9C7B72","#5A6E8A","#3A3A3A"]},"legend":null}}},
{"data":{"name":"bold"},"mark":{"type":"text","font":"Liberation Sans","fontSize":15,"fontWeight":"bold","color":"#2E3A4A","align":"center","baseline":"middle"},
 "encoding":{"x":{"field":"i","type":"quantitative","scale":{"domain":[-1.893,810.1],"nice":false,"zero":false},"axis":null},
  "y":{"field":"p","type":"quantitative","scale":{"domain":[-67.55,314.74],"nice":false,"zero":false},"axis":null},
  "text":{"field":"t"}}},
{"data":{"name":"wm"},"mark":{"type":"text","font":"Liberation Sans","fontSize":8,"color":"#333","align":"right","baseline":"middle"},
 "encoding":{"x":{"field":"i","type":"quantitative","scale":{"domain":[-1.893,810.1],"nice":false,"zero":false},"axis":null},
  "y":{"field":"p","type":"quantitative","scale":{"domain":[-67.55,314.74],"nice":false,"zero":false},"axis":null},
  "text":{"field":"t"}}},
{"data":{"name":"cur"},"mark":{"type":"rect","color":"#C0C0C0"},
 "encoding":{"x":{"field":"a","type":"quantitative","scale":{"domain":[-1.893,810.1],"nice":false,"zero":false},"axis":null},"x2":{"field":"b"},
  "y":{"field":"lo","type":"quantitative","scale":{"domain":[-67.55,314.74],"nice":false,"zero":false},"axis":null},"y2":{"field":"hi"}}},
{"data":{"name":"cur"},"mark":{"type":"text","font":"Liberation Sans","fontSize":7.5,"color":"white","align":"center","baseline":"middle"},
 "encoding":{"x":{"field":"m","type":"quantitative","scale":{"domain":[-1.893,810.1],"nice":false,"zero":false},"axis":null},
  "y":{"field":"pt","type":"quantitative","scale":{"domain":[-67.55,314.74],"nice":false,"zero":false},"axis":null},
  "text":{"field":"t"}}},
{"data":{"name":"tcells"},"mark":{"type":"rect","stroke":"#7A7A7A","strokeWidth":1},
 "encoding":{"x":{"field":"c0","type":"quantitative","scale":{"domain":[0,1287],"nice":false,"zero":false},"axis":null},"x2":{"field":"c1"},
  "y":{"field":"r0","type":"quantitative","scale":{"domain":[0,684],"nice":false,"zero":false,"reverse":true},"axis":null},"y2":{"field":"r1"},
  "fill":{"field":"k","type":"nominal","scale":{"domain":["dg","lg","gr","wh","sa","rd","bw","d1","tan","blu","mg","hd","ln1","ln2","ic1","ic2"],"range":["#5E8E5E","#90C08C","#C0C0C0","#F4F4F4","#FFA27E","#FF4500","#DAA520","#F4B930","#EBCB9C","#3A95D5","#D6D6D6","#E4E4E4","#8C8C8C","#222222","#F6D0D0","#D8E4F6"]},"legend":null}}},
{"data":{"name":"tbars"},"mark":{"type":"rect"},
 "encoding":{"x":{"field":"c0","type":"quantitative","scale":{"domain":[0,1287],"nice":false,"zero":false},"axis":null},"x2":{"field":"c1"},
  "y":{"field":"r0","type":"quantitative","scale":{"domain":[0,684],"nice":false,"zero":false,"reverse":true},"axis":null},"y2":{"field":"r1"},
  "fill":{"field":"k","type":"nominal","scale":{"domain":["dg","rd","ln1","ln2"],"range":["#5E8E5E","#FF4500","#8C8C8C","#222222"]},"legend":null}}},
{"data":{"name":"tborder"},"mark":{"type":"rect","fill":"transparent","stroke":"#F2B342","strokeWidth":2},
 "encoding":{"x":{"field":"c0","type":"quantitative","scale":{"domain":[0,1287],"nice":false,"zero":false},"axis":null},"x2":{"field":"c1"},
  "y":{"field":"r0","type":"quantitative","scale":{"domain":[0,684],"nice":false,"zero":false,"reverse":true},"axis":null},"y2":{"field":"r1"}}},
{"data":{"name":"tsmall"},"mark":{"type":"text","font":"Liberation Sans","fontSize":9,"color":"#333","align":"center","baseline":"middle"},
 "encoding":{"x":{"field":"tx","type":"quantitative","scale":{"domain":[0,1287],"nice":false,"zero":false},"axis":null},
  "y":{"field":"ty","type":"quantitative","scale":{"domain":[0,684],"nice":false,"zero":false,"reverse":true},"axis":null},"text":{"field":"t"}}},
{"data":{"name":"ttitle"},"mark":{"type":"text","font":"Liberation Sans","fontSize":8,"color":"#222","align":"left","baseline":"middle"},
 "encoding":{"x":{"field":"tx","type":"quantitative","scale":{"domain":[0,1287],"nice":false,"zero":false},"axis":null},
  "y":{"field":"ty","type":"quantitative","scale":{"domain":[0,684],"nice":false,"zero":false,"reverse":true},"axis":null},"text":{"field":"t"}}},
{"data":{"name":"tnorm"},"mark":{"type":"text","font":"Liberation Sans","fontSize":10.5,"color":"#333","align":"center","baseline":"middle"},
 "encoding":{"x":{"field":"tx","type":"quantitative","scale":{"domain":[0,1287],"nice":false,"zero":false},"axis":null},
  "y":{"field":"ty","type":"quantitative","scale":{"domain":[0,684],"nice":false,"zero":false,"reverse":true},"axis":null},"text":{"field":"t"}}},
{"data":{"name":"tbig"},"mark":{"type":"text","font":"Liberation Sans","fontSize":15,"color":"#333","align":"center","baseline":"middle"},
 "encoding":{"x":{"field":"tx","type":"quantitative","scale":{"domain":[0,1287],"nice":false,"zero":false},"axis":null},
  "y":{"field":"ty","type":"quantitative","scale":{"domain":[0,684],"nice":false,"zero":false,"reverse":true},"axis":null},"text":{"field":"t"}}},
{"data":{"name":"tbold"},"mark":{"type":"text","font":"Liberation Sans","fontSize":11,"fontWeight":"bold","color":"#111","align":"center","baseline":"middle"},
 "encoding":{"x":{"field":"tx","type":"quantitative","scale":{"domain":[0,1287],"nice":false,"zero":false},"axis":null},
  "y":{"field":"ty","type":"quantitative","scale":{"domain":[0,684],"nice":false,"zero":false,"reverse":true},"axis":null},"text":{"field":"t"}}},
{"data":{"name":"tbig2"},"mark":{"type":"text","font":"Liberation Sans","fontSize":15,"fontWeight":"bold","color":"#111","align":"center","baseline":"middle"},
 "encoding":{"x":{"field":"tx","type":"quantitative","scale":{"domain":[0,1287],"nice":false,"zero":false},"axis":null},
  "y":{"field":"ty","type":"quantitative","scale":{"domain":[0,684],"nice":false,"zero":false,"reverse":true},"axis":null},"text":{"field":"t"}}},
{"data":{"name":"tarrow"},"mark":{"type":"text","font":"DejaVu Sans","fontSize":11,"color":"#222","align":"center","baseline":"middle"},
 "encoding":{"x":{"field":"tx","type":"quantitative","scale":{"domain":[0,1287],"nice":false,"zero":false},"axis":null},
  "y":{"field":"ty","type":"quantitative","scale":{"domain":[0,684],"nice":false,"zero":false,"reverse":true},"axis":null},"text":{"field":"t"}}},
{"data":{"name":"tcirc"},"mark":{"type":"point","shape":"circle","size":150,"filled":false,"fill":"white","fillOpacity":1,"stroke":"#444","strokeWidth":1},
 "encoding":{"x":{"field":"tx","type":"quantitative","scale":{"domain":[0,1287],"nice":false,"zero":false},"axis":null},
  "y":{"field":"ty","type":"quantitative","scale":{"domain":[0,684],"nice":false,"zero":false,"reverse":true},"axis":null}}},
{"data":{"name":"tcirc"},"mark":{"type":"text","font":"DejaVu Serif","fontSize":7.5,"color":"#333","align":"center","baseline":"middle"},
 "encoding":{"x":{"field":"tx","type":"quantitative","scale":{"domain":[0,1287],"nice":false,"zero":false},"axis":null},
  "y":{"field":"ty","type":"quantitative","scale":{"domain":[0,684],"nice":false,"zero":false,"reverse":true},"axis":null},"text":{"field":"t"}}}
],
"resolve":{"scale":{"x":"independent","y":"independent","color":"independent","stroke":"independent","fill":"independent"}}
}
